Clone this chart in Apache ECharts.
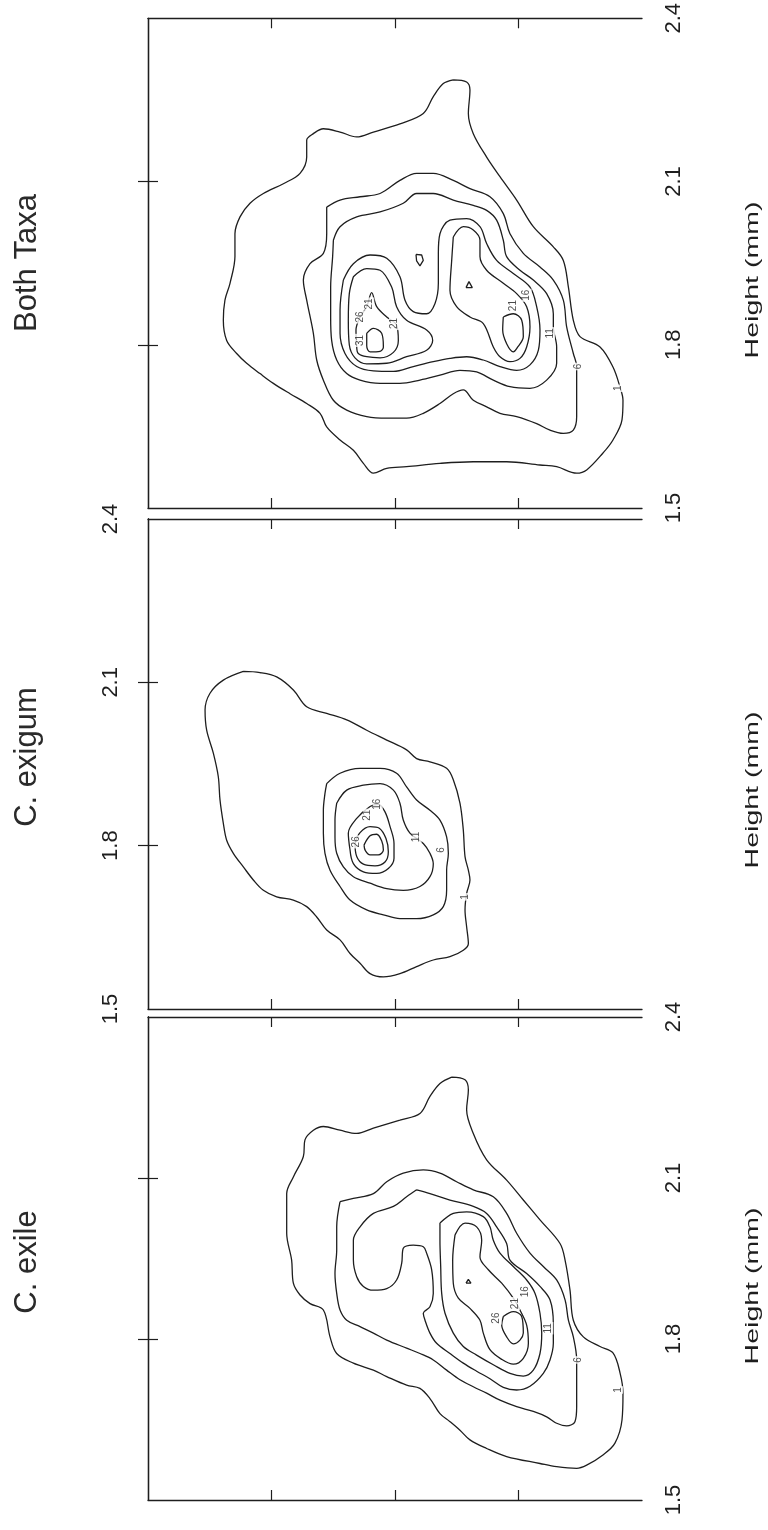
<!DOCTYPE html>
<html>
<head>
<meta charset="utf-8">
<script src="https://cdn.jsdelivr.net/npm/echarts@6/dist/echarts.min.js"></script>
<style>
  html, body { margin: 0; padding: 0; background: #fff; }
  #chart { width: 768px; height: 1530px; }
</style>
</head>
<body>
<div id="chart"></div>
<script>
// Height axis (mm), same for the three panels
var heightRange = [1.5, 2.4];
var heightStep = 0.3;
var heightInnerTicks = [1.8, 2.1];
// the other axis has ticks only, no labels in the figure
var widthRange = [0, 4];
var widthStep = 1;
var widthInnerTicks = [1, 2, 3];

var panelTitles = ['Both Taxa', 'C. exigum', 'C. exile'];
var heightName = 'Height (mm)';

// ---- Both Taxa contours, [width, height] ----
var bothL1 = [[2.472,2.287],[2.580,2.283],[2.607,2.268],[2.594,2.225],[2.634,2.188],[2.742,2.145],[2.850,2.109],[2.985,2.066],[3.120,2.017],[3.282,1.980],[3.363,1.955],[3.404,1.906],[3.444,1.845],[3.498,1.815],[3.660,1.796],[3.765,1.759],[3.822,1.722],[3.846,1.698],[3.838,1.662],[3.765,1.625],[3.684,1.601],[3.552,1.570],[3.471,1.564],[3.309,1.576],[3.174,1.579],[2.904,1.585],[2.634,1.585],[2.364,1.582],[2.094,1.576],[1.933,1.573],[1.825,1.564],[1.744,1.582],[1.663,1.606],[1.555,1.625],[1.447,1.649],[1.393,1.674],[1.285,1.692],[1.150,1.710],[1.015,1.729],[0.907,1.747],[0.799,1.766],[0.718,1.784],[0.637,1.808],[0.610,1.845],[0.623,1.882],[0.664,1.913],[0.704,1.962],[0.704,2.004],[0.745,2.035],[0.826,2.060],[0.934,2.078],[1.096,2.096],[1.231,2.115],[1.285,2.145],[1.285,2.176],[1.339,2.188],[1.420,2.197],[1.555,2.191],[1.690,2.182],[1.825,2.191],[2.040,2.206],[2.229,2.225],[2.310,2.256],[2.391,2.280]];
var bothL6 = [[1.447,2.053],[1.555,2.066],[1.717,2.072],[1.879,2.078],[2.040,2.102],[2.175,2.115],[2.310,2.115],[2.472,2.102],[2.607,2.087],[2.769,2.072],[2.877,2.041],[2.931,2.004],[3.039,1.968],[3.174,1.943],[3.282,1.919],[3.363,1.882],[3.390,1.833],[3.444,1.784],[3.471,1.760],[3.471,1.710],[3.471,1.668],[3.444,1.643],[3.363,1.637],[3.255,1.643],[3.147,1.655],[2.985,1.668],[2.850,1.674],[2.742,1.686],[2.634,1.698],[2.553,1.717],[2.472,1.710],[2.364,1.692],[2.229,1.674],[2.094,1.665],[1.933,1.665],[1.771,1.668],[1.609,1.680],[1.501,1.698],[1.420,1.735],[1.366,1.772],[1.339,1.821],[1.285,1.882],[1.258,1.919],[1.312,1.949],[1.420,1.968],[1.447,2.004],[1.447,2.041]];
var bothL11 = [[1.501,1.992],[1.555,2.017],[1.690,2.035],[1.879,2.044],[2.067,2.060],[2.175,2.078],[2.310,2.078],[2.472,2.066],[2.634,2.056],[2.742,2.047],[2.823,2.029],[2.877,1.992],[2.904,1.962],[3.012,1.937],[3.120,1.919],[3.228,1.894],[3.282,1.857],[3.282,1.833],[3.309,1.796],[3.309,1.766],[3.228,1.735],[3.093,1.720],[2.931,1.723],[2.796,1.735],[2.661,1.750],[2.526,1.753],[2.364,1.744],[2.202,1.735],[2.040,1.729],[1.879,1.729],[1.717,1.735],[1.609,1.747],[1.528,1.772],[1.487,1.808],[1.479,1.851],[1.479,1.906],[1.495,1.962]];
var bothL16 = [[1.582,1.919],[1.663,1.949],[1.798,1.965],[1.933,1.959],[2.040,1.925],[2.081,1.882],[2.148,1.861],[2.256,1.857],[2.324,1.876],[2.351,1.913],[2.351,1.968],[2.364,2.004],[2.445,2.029],[2.580,2.032],[2.688,2.017],[2.742,1.986],[2.823,1.955],[2.958,1.931],[3.093,1.906],[3.147,1.870],[3.174,1.827],[3.161,1.790],[3.093,1.763],[2.985,1.753],[2.850,1.760],[2.715,1.772],[2.580,1.778],[2.445,1.775],[2.310,1.769],[2.148,1.760],[1.987,1.751],[1.825,1.752],[1.690,1.760],[1.595,1.784],[1.555,1.821],[1.555,1.864]];
var bothL21a = [[1.663,1.925],[1.771,1.940],[1.879,1.937],[1.973,1.906],[2.013,1.870],[2.094,1.845],[2.256,1.827],[2.305,1.808],[2.256,1.790],[2.094,1.778],[1.933,1.766],[1.771,1.765],[1.676,1.776],[1.630,1.800],[1.622,1.845],[1.630,1.894]];
var bothL21b = [[2.472,1.998],[2.553,2.017],[2.634,2.011],[2.688,1.992],[2.688,1.962],[2.742,1.937],[2.877,1.913],[2.985,1.894],[3.066,1.870],[3.093,1.833],[3.066,1.796],[3.012,1.775],[2.931,1.769],[2.850,1.778],[2.796,1.796],[2.715,1.839],[2.607,1.851],[2.499,1.870],[2.445,1.900],[2.459,1.955]];
var bothL26a = [[1.690,1.796],[1.684,1.827],[1.717,1.851],[1.771,1.870],[1.811,1.896],[1.852,1.870],[1.933,1.851],[2.013,1.836],[2.027,1.808],[1.987,1.786],[1.879,1.776],[1.771,1.778],[1.703,1.784]];
var bothL26b = [[2.877,1.851],[2.958,1.857],[3.026,1.845],[3.039,1.815],[2.985,1.793],[2.958,1.787],[2.904,1.802],[2.872,1.827]];
var bothL31 = [[1.771,1.821],[1.825,1.830],[1.892,1.821],[1.906,1.796],[1.879,1.788],[1.798,1.787],[1.771,1.798]];
var bothIsleA = [[2.170,1.966],[2.216,1.965],[2.229,1.955],[2.202,1.945],[2.175,1.954]];
var bothIsleB = [[2.575,1.905],[2.599,1.916],[2.626,1.905]];
var bothLabels = [[1.717,1.808,'31'],[1.722,1.851,'26'],[1.792,1.875,'21'],[1.992,1.839,'21'],[2.958,1.872,'21'],[3.066,1.891,'16'],[3.255,1.821,'11'],[3.485,1.760,'6'],[3.806,1.720,'1']];

// ---- C. exigum contours ----
var exigL1 = [[0.772,2.120],[0.907,2.118],[1.042,2.110],[1.177,2.086],[1.285,2.055],[1.447,2.043],[1.609,2.031],[1.771,2.012],[1.933,1.994],[2.094,1.976],[2.175,1.960],[2.283,1.954],[2.418,1.942],[2.472,1.921],[2.526,1.878],[2.553,1.829],[2.567,1.780],[2.594,1.755],[2.607,1.737],[2.580,1.712],[2.567,1.682],[2.580,1.651],[2.594,1.620],[2.553,1.608],[2.445,1.596],[2.310,1.590],[2.175,1.578],[2.040,1.565],[1.906,1.559],[1.798,1.565],[1.717,1.584],[1.636,1.602],[1.555,1.627],[1.447,1.645],[1.366,1.669],[1.285,1.688],[1.177,1.700],[1.042,1.706],[0.934,1.718],[0.853,1.737],[0.772,1.761],[0.691,1.786],[0.637,1.810],[0.610,1.841],[0.583,1.884],[0.569,1.927],[0.529,1.970],[0.475,2.012],[0.462,2.049],[0.502,2.080],[0.610,2.104]];
var exigL6 = [[1.447,1.914],[1.555,1.933],[1.717,1.942],[1.879,1.942],[2.013,1.933],[2.094,1.908],[2.175,1.884],[2.283,1.865],[2.364,1.847],[2.418,1.816],[2.432,1.786],[2.418,1.755],[2.418,1.718],[2.391,1.688],[2.310,1.673],[2.175,1.666],[2.040,1.666],[1.906,1.673],[1.771,1.682],[1.636,1.700],[1.555,1.725],[1.474,1.755],[1.433,1.786],[1.420,1.823],[1.420,1.865],[1.433,1.896]];
var exigL11 = [[1.528,1.878],[1.609,1.902],[1.744,1.911],[1.879,1.914],[1.987,1.902],[2.040,1.878],[2.067,1.847],[2.121,1.823],[2.229,1.804],[2.283,1.786],[2.310,1.767],[2.283,1.743],[2.202,1.725],[2.067,1.718],[1.933,1.721],[1.798,1.731],[1.663,1.743],[1.582,1.761],[1.528,1.786],[1.514,1.816],[1.514,1.847]];
var exigL16 = [[1.636,1.792],[1.622,1.823],[1.690,1.850],[1.798,1.872],[1.865,1.876],[1.919,1.862],[1.960,1.835],[1.992,1.804],[1.992,1.777],[1.946,1.758],[1.852,1.749],[1.744,1.752],[1.663,1.767]];
var exigL21 = [[1.676,1.804],[1.717,1.824],[1.798,1.835],[1.873,1.832],[1.927,1.813],[1.946,1.789],[1.919,1.770],[1.838,1.763],[1.744,1.766],[1.690,1.780]];
var exigL26 = [[1.749,1.801],[1.798,1.818],[1.852,1.821],[1.892,1.809],[1.906,1.792],[1.865,1.783],[1.798,1.783],[1.760,1.791]];
var exigLabels = [[1.690,1.807,'26'],[1.779,1.856,'21'],[1.860,1.876,'16'],[2.175,1.816,'11'],[2.378,1.792,'6'],[2.567,1.706,'1']];

// ---- C. exile contours ----
var exileL1 = [[2.459,2.288],[2.567,2.283],[2.594,2.264],[2.580,2.227],[2.634,2.183],[2.742,2.134],[2.904,2.096],[3.039,2.059],[3.174,2.022],[3.336,1.978],[3.377,1.947],[3.417,1.891],[3.444,1.835],[3.525,1.804],[3.660,1.786],[3.765,1.774],[3.822,1.737],[3.846,1.699],[3.838,1.649],[3.781,1.606],[3.684,1.584],[3.552,1.565],[3.471,1.559],[3.309,1.562],[3.174,1.568],[2.904,1.581],[2.742,1.596],[2.607,1.612],[2.526,1.630],[2.445,1.646],[2.364,1.661],[2.283,1.689],[2.202,1.708],[2.094,1.714],[1.933,1.730],[1.825,1.742],[1.663,1.755],[1.528,1.773],[1.474,1.804],[1.420,1.854],[1.312,1.866],[1.231,1.882],[1.177,1.904],[1.163,1.947],[1.123,1.997],[1.123,2.071],[1.177,2.102],[1.258,2.140],[1.271,2.171],[1.339,2.189],[1.420,2.196],[1.555,2.189],[1.690,2.183],[1.825,2.193],[2.040,2.208],[2.202,2.220],[2.283,2.252],[2.364,2.276]];
var exileL6 = [[1.555,2.056],[1.663,2.062],[1.825,2.071],[1.933,2.093],[2.067,2.109],[2.229,2.115],[2.364,2.109],[2.499,2.093],[2.634,2.078],[2.796,2.065],[2.904,2.034],[2.985,1.997],[3.093,1.960],[3.201,1.935],[3.309,1.910],[3.377,1.873],[3.404,1.835],[3.444,1.804],[3.471,1.761],[3.471,1.717],[3.471,1.674],[3.457,1.646],[3.390,1.638],[3.309,1.643],[3.228,1.655],[3.120,1.665],[2.985,1.674],[2.850,1.686],[2.742,1.699],[2.634,1.711],[2.526,1.724],[2.418,1.742],[2.310,1.761],[2.202,1.773],[2.094,1.783],[1.933,1.798],[1.825,1.811],[1.717,1.823],[1.609,1.835],[1.555,1.854],[1.528,1.885],[1.514,1.922],[1.528,1.966],[1.528,2.009]];
var exileL11 = [[2.175,2.078],[2.283,2.071],[2.445,2.059],[2.634,2.047],[2.742,2.034],[2.823,2.009],[2.904,1.978],[2.931,1.947],[3.066,1.922],[3.174,1.898],[3.255,1.873],[3.282,1.829],[3.282,1.792],[3.255,1.761],[3.201,1.736],[3.093,1.712],[2.985,1.705],[2.877,1.710],[2.769,1.726],[2.661,1.740],[2.553,1.755],[2.445,1.773],[2.337,1.792],[2.283,1.811],[2.243,1.835],[2.229,1.848],[2.283,1.860],[2.310,1.885],[2.297,1.929],[2.256,1.960],[2.229,1.972],[2.148,1.975],[2.067,1.969],[2.054,1.941],[2.013,1.910],[1.933,1.894],[1.825,1.891],[1.744,1.898],[1.690,1.916],[1.663,1.947],[1.663,1.984],[1.717,2.009],[1.825,2.034],[1.987,2.047],[2.094,2.065]];
var exileL16 = [[2.364,2.016],[2.472,2.034],[2.580,2.037],[2.715,2.028],[2.769,2.009],[2.796,1.984],[2.850,1.960],[2.958,1.935],[3.066,1.910],[3.134,1.885],[3.174,1.848],[3.188,1.811],[3.174,1.773],[3.120,1.742],[3.039,1.731],[2.931,1.736],[2.796,1.752],[2.661,1.770],[2.553,1.786],[2.472,1.811],[2.405,1.848],[2.378,1.885],[2.370,1.935],[2.364,1.984]];
var exileL21 = [[2.486,1.994],[2.567,2.016],[2.661,2.009],[2.702,1.984],[2.688,1.953],[2.756,1.929],[2.864,1.904],[2.958,1.876],[3.012,1.854],[3.066,1.826],[3.080,1.792],[3.039,1.764],[2.958,1.753],[2.864,1.762],[2.769,1.780],[2.715,1.811],[2.688,1.835],[2.607,1.857],[2.513,1.876],[2.472,1.904],[2.467,1.947]];
var exileL26 = [[2.877,1.842],[2.958,1.851],[3.026,1.842],[3.039,1.811],[3.012,1.798],[2.958,1.791],[2.904,1.804],[2.864,1.826]];
var exileIsle = [[2.575,1.904],[2.594,1.911],[2.615,1.904]];
var exileLabels = [[2.823,1.839,'26'],[2.972,1.866,'21'],[3.053,1.888,'16'],[3.242,1.820,'11'],[3.484,1.761,'6'],[3.806,1.705,'1']];

var panelContours = [
  [bothL1, bothL6, bothL11, bothL16, bothL21a, bothL21b, bothL26a, bothL26b, bothL31, bothIsleA, bothIsleB],
  [exigL1, exigL6, exigL11, exigL16, exigL21, exigL26],
  [exileL1, exileL6, exileL11, exileL16, exileL21, exileL26, exileIsle]
];
var panelLabels = [bothLabels, exigLabels, exileLabels];

// layout
var ink = '#1e1e1e';
var font = 'Liberation Sans, Arial, sans-serif';
var gridBoxes = [
  { left: 148, right: 126, top: 18, height: 490 },
  { left: 148, right: 126, top: 519, height: 490 },
  { left: 148, right: 126, top: 1017, height: 483 }
];
var tickSide = ['right', 'left', 'right'];
var titleY = [263, 757, 1262];
var nameY = [280, 790, 1286];

var chart = echarts.init(document.getElementById('chart'), null, { renderer: 'canvas' });

var xAxes = [], yAxes = [], series = [], graphics = [];

gridBoxes.forEach(function (g, i) {
  ['bottom', 'top'].forEach(function (pos) {
    xAxes.push({
      type: 'value', gridIndex: i, position: pos,
      min: widthRange[0], max: widthRange[1], interval: widthStep,
      axisLine: { show: true, lineStyle: { color: ink, width: 1.3 } },
      axisTick: { show: true, inside: true, length: 10, customValues: widthInnerTicks, lineStyle: { color: ink, width: 1.2 } },
      axisLabel: { show: false },
      splitLine: { show: false }
    });
  });
  ['left', 'right'].forEach(function (pos) {
    yAxes.push({
      type: 'value', gridIndex: i, position: pos,
      min: heightRange[0], max: heightRange[1], interval: heightStep,
      axisLine: { show: true, lineStyle: { color: ink, width: 1.3 } },
      axisTick: { show: true, inside: true, length: 10, customValues: heightInnerTicks, lineStyle: { color: ink, width: 1.2 } },
      axisLabel: {
        show: pos === tickSide[i], rotate: 90,
        margin: pos === 'right' ? 21 : 26,
        fontSize: 22, color: ink, fontFamily: font,
        formatter: function (v) { return v.toFixed(1); }
      },
      splitLine: { show: false }
    });
  });

  panelContours[i].forEach(function (c) {
    series.push({
      type: 'line', xAxisIndex: 2 * i, yAxisIndex: 2 * i,
      data: c.concat([c[0]]),
      symbol: 'none', smooth: c.length > 5 ? 0.35 : false,
      lineStyle: { color: ink, width: 1.3 },
      silent: true, z: 2
    });
  });

  series.push({
    type: 'scatter', xAxisIndex: 2 * i, yAxisIndex: 2 * i,
    data: panelLabels[i].map(function (l) { return { value: [l[0], l[1]], name: l[2] }; }),
    symbolSize: 1, itemStyle: { color: 'rgba(0,0,0,0)' },
    label: {
      show: true, position: 'inside', formatter: '{b}', rotate: 90,
      fontSize: 10, color: ink, fontFamily: font,
      backgroundColor: '#fff', padding: [0, 1]
    },
    silent: true, z: 3
  });

  graphics.push({
    type: 'text', x: 27, y: titleY[i], rotation: Math.PI / 2,
    style: {
      text: panelTitles[i], fontSize: 31, fontFamily: font, fill: '#2a2a2a',
      textAlign: 'center', textVerticalAlign: 'middle', align: 'center', verticalAlign: 'middle'
    }
  });
  graphics.push({
    type: 'text', x: 753, y: nameY[i], rotation: Math.PI / 2, scaleX: 1.5,
    style: {
      text: heightName, fontSize: 19, fontFamily: font, fill: ink,
      textAlign: 'center', textVerticalAlign: 'middle', align: 'center', verticalAlign: 'middle'
    }
  });
});

chart.setOption({
  backgroundColor: '#ffffff',
  animation: false,
  grid: gridBoxes,
  xAxis: xAxes,
  yAxis: yAxes,
  series: series,
  graphic: graphics
});
</script>
</body>
</html>
